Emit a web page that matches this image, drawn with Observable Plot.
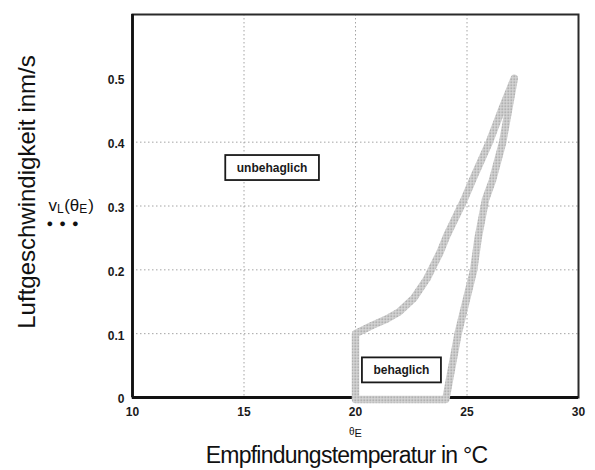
<!DOCTYPE html>
<html>
<head>
<meta charset="utf-8">
<script src="https://cdn.jsdelivr.net/npm/d3@7"></script>
<script src="https://cdn.jsdelivr.net/npm/@observablehq/plot@0.6"></script>
<style>
  body { margin: 0; background: #fff; }
  #chart svg { font-family: "Liberation Sans", Arial, sans-serif; overflow: visible; }
</style>
</head>
<body>
<div id="chart"></div>
<script>
// Axis ticks and grid positions
const xTicks = [10, 15, 20, 25, 30];
const yTicks = [0, 0.1, 0.2, 0.3, 0.4, 0.5];
const gridX = [15, 20, 25];
const gridY = [0.1, 0.2, 0.3, 0.4];

// Comfort zone boundary: left/upper edge (temperature θE in °C, air speed in m/s)
const leftEdgeT = [20, 20, 20.75, 21.4, 21.95, 22.6, 23.2, 23.8, 24.1, 24.86, 25.3, 26.0, 26.6, 27.12];
const leftEdgeV = [-0.003, 0.1, 0.113, 0.123, 0.134, 0.155, 0.186, 0.228, 0.254, 0.309, 0.345, 0.40, 0.455, 0.5];
// right/lower edge, running from the tip back down to the axis
const rightEdgeT = [27.12, 26.6, 26.14, 25.83, 25.5, 25.3, 24.6, 24.05];
const rightEdgeV = [0.5, 0.4, 0.34, 0.31, 0.25, 0.2, 0.1, -0.003];

// Region labels
const zoneLabels = ["unbehaglich", "behaglich"];
const zoneLabelT = [16.26, 22.06];
const zoneLabelV = [0.36, 0.043];

// Titles and symbols
const yTitle = "Luftgeschwindigkeit inm/s";
const xTitle = "Empfindungstemperatur in °C";
const thetaSymbol = "θE";
const speedSymbol = "vL(θE)";
const speedMarker = "● ● ●";

// Closed outline of the comfort zone
const outline = [
  ...leftEdgeT.map((t, i) => ({t, v: leftEdgeV[i]})),
  ...rightEdgeT.map((t, i) => ({t, v: rightEdgeV[i]})),
  {t: leftEdgeT[0], v: leftEdgeV[0]}
];
const labels = zoneLabels.map((name, i) => ({name, t: zoneLabelT[i], v: zoneLabelV[i]}));

const fmtY = d => d === 0 ? "0" : d.toFixed(1);

const svg = Plot.plot({
  width: 595,
  height: 470,
  marginLeft: 132,
  marginRight: 17,
  marginTop: 14,
  marginBottom: 73,
  style: {background: "#fff", color: "#1a1a1a"},
  x: {domain: [10, 30]},
  y: {domain: [0, 0.6]},
  marks: [
    Plot.ruleX(gridX, {stroke: "#a4a4a4", strokeWidth: 1, strokeDasharray: "1.5,2.5"}),
    Plot.ruleY(gridY, {stroke: "#a4a4a4", strokeWidth: 1, strokeDasharray: "1.5,2.5"}),
    Plot.frame({stroke: "#2a2a2a", strokeWidth: 2}),
    Plot.ruleX([10], {stroke: "#111", strokeWidth: 2.8}),
    Plot.ruleY([0], {stroke: "#111", strokeWidth: 2.8}),
    Plot.line(outline, {
      x: "t", y: "v",
      stroke: "url(#stipple)",
      strokeWidth: 7.5,
      strokeLinejoin: "round",
      strokeLinecap: "round"
    }),
    Plot.text(labels, {
      x: "t", y: "v", text: "name",
      fontSize: 12, fontWeight: "bold", fill: "#1a1a1a"
    }),
    Plot.axisX({
      ticks: xTicks, tickSize: 0, tickPadding: 10,
      fontSize: 12, fontWeight: "bold", label: null
    }),
    Plot.axisY({
      ticks: yTicks, tickSize: 0, tickPadding: 8, tickFormat: fmtY,
      fontSize: 12, fontWeight: "bold", dy: 2, label: null
    }),
    // axis titles
    Plot.text([yTitle], {
      frameAnchor: "left", textAnchor: "middle", lineAnchor: "middle",
      rotate: -90, dx: -105, dy: -14,
      fontSize: 24, fill: "#111"
    }),
    Plot.text([xTitle], {
      frameAnchor: "bottom", textAnchor: "middle", lineAnchor: "middle",
      dx: -9, dy: 58.6,
      fontSize: 23, fill: "#111"
    }),
    // symbol of the axis quantity
    Plot.text([thetaSymbol], {
      x: [20], frameAnchor: "bottom", textAnchor: "middle", lineAnchor: "middle",
      dy: 34, fontSize: 10, fill: "#111"
    }),
    Plot.text([speedSymbol], {
      y: [0.3], frameAnchor: "left", textAnchor: "start", lineAnchor: "middle",
      dx: -84, dy: 0, fontSize: 17, fill: "#111"
    }),
    Plot.text([speedMarker], {
      y: [0.3], frameAnchor: "left", textAnchor: "start", lineAnchor: "middle",
      dx: -86, dy: 17, fontSize: 11, fill: "#111"
    })
  ]
});

document.getElementById("chart").append(svg);

const root = d3.select(svg);
const textsOf = s => root.selectAll("text").filter(function() { return this.textContent === s; });

// stippled grey fill used for the comfort-zone outline
const defs = root.insert("defs", ":first-child");
const pat = defs.append("pattern")
  .attr("id", "stipple")
  .attr("patternUnits", "userSpaceOnUse")
  .attr("width", 3).attr("height", 3);
pat.append("rect").attr("width", 3).attr("height", 3).attr("fill", "#d8d8d8");
pat.append("rect").attr("width", 1.5).attr("height", 1.5).attr("fill", "#929292");

// framed boxes behind the region labels
zoneLabels.forEach(name => {
  textsOf(name).each(function() {
    const b = this.getBBox();
    const cy = b.y + b.height / 2;
    const node = this;
    d3.select(node.parentNode).insert("rect", () => node)
      .attr("transform", node.getAttribute("transform"))
      .attr("x", b.x - 11.5).attr("width", b.width + 23)
      .attr("y", cy - 12.5).attr("height", 25)
      .attr("fill", "#fff").attr("stroke", "#1a1a1a").attr("stroke-width", 1.8);
  });
});

// tighter tracking for the x title, wider spacing for the dot marker
textsOf(xTitle).attr("letter-spacing", "-0.75px");
textsOf(speedMarker).attr("letter-spacing", "1.5px");

// subscripts in the symbol labels
textsOf(thetaSymbol).each(function() {
  const t = d3.select(this);
  t.text(null);
  t.append("tspan").text("θ");
  t.append("tspan").attr("dy", 2.5).attr("font-size", 11).text("E");
});

textsOf(speedSymbol).each(function() {
  const t = d3.select(this);
  t.text(null);
  t.append("tspan").text("v");
  t.append("tspan").attr("dy", 2).attr("font-size", 12).text("L");
  t.append("tspan").attr("dy", -2).attr("dx", 0.5).text("(θ");
  t.append("tspan").attr("dy", 2).attr("font-size", 12).text("E");
  t.append("tspan").attr("dy", -2).attr("dx", 1).text(")");
});
</script>
</body>
</html>
